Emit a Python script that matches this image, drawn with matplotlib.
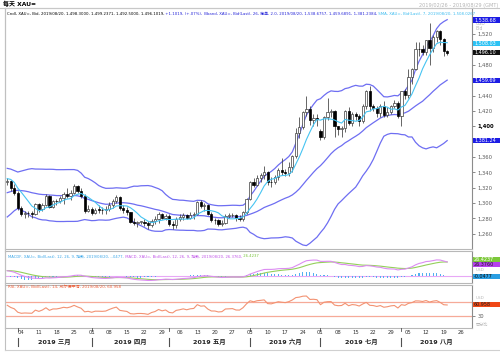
import numpy as np
import pandas as pd
import matplotlib
matplotlib.use('Agg')
import matplotlib.pyplot as plt
from matplotlib.patches import Rectangle
from matplotlib.lines import Line2D

plt.rcParams['font.family'] = ['DejaVu Sans', 'Noto Sans CJK SC']

W, H = 500, 352

# ---------------- data ----------------
dates = pd.bdate_range('2019-02-26', '2019-08-20')
axis_dates = pd.bdate_range('2019-02-26', '2019-08-30')

# closes before the first shown candle (Dec 3 2018 - Feb 25 2019), used only to warm up indicators
warmup_closes = [1231, 1238, 1237, 1238, 1248, 1244, 1244, 1246, 1241, 1238, 1245, 1249, 1242, 1258, 1256,
                 1269, 1268, 1268, 1276, 1280, 1282,
                 1282, 1287, 1294, 1285, 1289, 1284, 1292, 1287, 1289, 1291, 1289, 1293, 1292, 1281,
                 1280, 1283, 1282, 1280, 1297, 1302, 1311, 1319, 1321,
                 1317, 1311, 1314, 1307, 1309, 1315, 1307, 1311, 1306, 1313, 1322, 1327, 1340, 1346, 1324,
                 1329, 1328]

opens = [1328.0, 1328.5, 1319.4,
         1313.3, 1293.5, 1286.2, 1287.5, 1286.5, 1285.7,
         1298.6, 1291.6, 1297.9, 1309.2, 1295.0,
         1302.6, 1302.5, 1306.0, 1311.2, 1308.9,
         1313.5, 1322.1, 1315.5, 1309.5, 1290.0,
         1292.4, 1286.4, 1291.2, 1291.0, 1290.3,
         1291.5, 1297.6, 1303.2, 1307.8, 1293.5,
         1290.7, 1288.2, 1275.7, 1273.9, 1275.4,
         1275.5, 1274.2, 1271.0, 1276.2, 1279.2,
         1285.9, 1280.5,
         1283.4, 1273.0, 1270.8,
         1279.0, 1281.2, 1284.4, 1281.0, 1284.3,
         1285.6, 1301.3, 1296.3, 1297.7, 1286.1,
         1277.6, 1277.5, 1273.2, 1274.2, 1283.5,
         1284.1, 1284.9, 1279.9, 1279.6, 1287.6,
         1305.6, 1327.5, 1324.0, 1333.1, 1336.6,
         1340.9, 1327.8, 1326.8, 1334.1, 1342.5,
         1340.8, 1339.4, 1346.3, 1360.8, 1391.5,
         1399.5, 1418.7, 1422.8, 1408.6, 1411.3,
         1394.0, 1385.5, 1411.9, 1418.6, 1419.9,
         1399.9, 1395.8, 1397.5, 1419.6, 1403.9,
         1415.8, 1413.5, 1406.5, 1426.5, 1446.1,
         1426.2, 1424.3, 1417.9, 1426.5, 1414.6,
         1418.9, 1426.8, 1430.2,
         1413.5, 1445.5,
         1440.8, 1464.2, 1474.5, 1501.0, 1500.5,
         1497.3, 1511.9, 1502.5, 1516.6, 1524.4,
         1513.6, 1498.3]

highs = [1333.0, 1330.5, 1325.0,
         1315.0, 1295.5, 1289.5, 1290.0, 1289.0, 1300.0,
         1300.0, 1300.5, 1311.5, 1310.0, 1304.5,
         1305.5, 1309.0, 1314.0, 1320.0, 1317.0,
         1324.5, 1324.0, 1319.5, 1312.0, 1297.5,
         1295.0, 1293.5, 1297.0, 1295.0, 1296.5,
         1301.0, 1305.5, 1310.0, 1309.0, 1297.5,
         1295.0, 1288.5, 1280.5, 1277.0, 1277.0,
         1279.5, 1277.0, 1279.5, 1282.5, 1288.0,
         1287.0, 1286.0,
         1286.0, 1276.0, 1282.0,
         1285.5, 1286.5, 1286.0, 1288.0, 1288.5,
         1303.0, 1303.5, 1300.0, 1298.5, 1288.0,
         1280.0, 1279.0, 1277.5, 1286.0, 1287.0,
         1286.5, 1286.0, 1284.5, 1290.0, 1306.0,
         1329.0, 1332.5, 1336.0, 1339.5, 1348.0,
         1341.5, 1333.5, 1337.0, 1345.5, 1358.5,
         1344.0, 1353.5, 1362.5, 1397.5, 1411.5,
         1420.0, 1439.0, 1426.0, 1416.5, 1416.0,
         1396.0, 1414.0, 1437.5, 1422.0, 1421.5,
         1401.0, 1401.0, 1421.5, 1425.5, 1418.0,
         1419.0, 1416.0, 1428.5, 1447.5, 1453.0,
         1429.5, 1426.0, 1429.0, 1433.5, 1424.5,
         1428.0, 1434.0, 1433.0,
         1446.5, 1448.5,
         1475.0, 1476.0, 1510.5, 1509.5, 1506.0,
         1513.0, 1535.0, 1519.5, 1525.0, 1526.0,
         1515.0, 1499.2]

lows = [1323.0, 1316.0, 1311.0,
        1290.5, 1282.5, 1280.8, 1282.0, 1281.0, 1284.0,
        1288.5, 1290.0, 1296.0, 1293.0, 1293.5,
        1298.0, 1299.5, 1298.5, 1306.0, 1304.5,
        1311.5, 1312.5, 1307.0, 1287.0, 1288.5,
        1284.0, 1285.5, 1286.5, 1286.0, 1285.5,
        1289.5, 1294.0, 1300.0, 1290.5, 1286.5,
        1284.5, 1274.0, 1271.0, 1268.5, 1272.0,
        1270.5, 1266.0, 1268.5, 1273.0, 1273.5,
        1278.5, 1278.0,
        1270.0, 1266.5, 1267.5,
        1276.0, 1278.0, 1278.5, 1279.5, 1279.0,
        1284.0, 1293.0, 1290.0, 1284.5, 1275.5,
        1273.0, 1269.5, 1270.0, 1272.5, 1280.5,
        1281.5, 1276.5, 1276.0, 1276.5, 1286.0,
        1304.0, 1320.5, 1322.5, 1327.0, 1331.0,
        1323.5, 1320.5, 1325.0, 1329.5, 1336.0,
        1335.0, 1335.5, 1340.0, 1358.5, 1385.0,
        1396.0, 1414.0, 1402.0, 1400.0, 1400.5,
        1381.5, 1383.0, 1408.0, 1411.5, 1386.0,
        1388.5, 1385.5, 1392.0, 1401.5, 1401.0,
        1408.5, 1400.5, 1404.5, 1422.0, 1420.0,
        1419.5, 1412.5, 1412.5, 1412.5, 1412.5,
        1416.0, 1424.0, 1410.5,
        1400.5, 1435.0,
        1437.0, 1455.0, 1473.5, 1491.5, 1493.0,
        1492.5, 1480.0, 1496.5, 1510.0, 1506.0,
        1492.0, 1492.5]

closes = [1328.5, 1319.4, 1313.3,
          1293.5, 1286.2, 1287.5, 1286.5, 1285.7, 1298.6,
          1291.6, 1297.9, 1309.2, 1295.0, 1302.6,
          1302.5, 1306.0, 1311.2, 1308.9, 1313.5,
          1322.1, 1315.5, 1309.5, 1290.0, 1292.4,
          1286.4, 1291.2, 1291.0, 1290.3, 1291.5,
          1297.6, 1303.2, 1307.8, 1293.5, 1290.7,
          1288.2, 1275.7, 1273.9, 1275.4, 1275.5,
          1274.2, 1271.0, 1276.2, 1279.2, 1285.9,
          1280.5, 1283.4,
          1273.0, 1270.8, 1279.0,
          1281.2, 1284.4, 1281.0, 1284.3, 1285.6,
          1301.3, 1296.3, 1297.7, 1286.1, 1277.6,
          1277.5, 1273.2, 1274.2, 1283.5, 1284.1,
          1284.9, 1279.9, 1279.6, 1287.6, 1305.6,
          1327.5, 1324.0, 1333.1, 1336.6, 1340.9,
          1327.8, 1326.8, 1334.1, 1342.5, 1340.8,
          1339.4, 1346.3, 1360.8, 1391.5, 1399.5,
          1418.7, 1422.8, 1408.6, 1411.3, 1409.5,
          1385.5, 1411.9, 1418.6, 1419.9, 1399.9,
          1395.8, 1397.5, 1419.6, 1403.9, 1415.8,
          1413.5, 1406.5, 1426.5, 1446.1, 1426.2,
          1424.3, 1417.9, 1426.5, 1414.6, 1418.9,
          1426.8, 1430.2, 1413.5,
          1445.5, 1440.8,
          1464.2, 1474.5, 1501.0, 1500.5, 1497.3,
          1511.9, 1502.5, 1516.6, 1524.4, 1513.6,
          1497.8, 1496.1]

# last values as printed by the chart (used for the right-hand value boxes)
last_bband = [1538.6757, 1459.6891, 1381.2384]
last_sma = 1508.0267
last_close = 1496.1019
last_macd_signal = 26.4237
last_macd = 26.3760
last_macd_hist = -0.0477
last_rsi = 60.958

price_ticks = list(range(1260, 1541, 20))
hidden_price_labels = [1380, 1460, 1500, 1540]   # covered by value boxes in the reference
month_names = {3: '三月', 4: '四月', 5: '五月', 6: '六月', 7: '七月', 8: '八月'}

title_main = [("Cndl, XAU=, Bid, 2019/08/20, 1,498.3000, 1,499.2371, 1,492.5000, 1,496.1019,", '#000000'),
              (" +1.1019, (+.07%),", '#2424d8'),
              (" Bband, XAU=, Bid(Last), 26, 简单, 2.0, 2019/08/20, 1,538.6757, 1,459.6891, 1,381.2384,", '#2424d8'),
              (" SMA, XAU=, Bid(Last), 7, 2019/08/20, 1,508.0267", '#3cbcf0')]
title_macd = [("MACDF, XAU=, Bid(Last), 12, 26, 9, 指数, 2019/08/20, -.0477,", '#3aa6e8'),
              (" MACD, XAU=, Bid(Last), 12, 26, 9, 指数, 2019/08/20, 26.3760,", '#c054e8'),
              (" 26.4237", '#78c43a')]
title_rsi = [("RSI, XAU=, Bid(Last), 14, 威尔德平滑, 2019/08/20, 60.958", '#f0603a')]

# ---------------- indicators ----------------
n = len(closes)
assert len(opens) == n and len(highs) == n and len(lows) == n == len(dates)
allc = pd.Series(warmup_closes + closes, dtype=float)
nw = len(warmup_closes)
sma7 = allc.rolling(7).mean().values[nw:]
bmid_s = allc.rolling(26).mean()
bsd = allc.rolling(26).std(ddof=0)
bup = (bmid_s + 2 * bsd).values[nw:]
blo = (bmid_s - 2 * bsd).values[nw:]
bmid = bmid_s.values[nw:]
ema12 = allc.ewm(span=12, adjust=False).mean()
ema26 = allc.ewm(span=26, adjust=False).mean()
macd_s = ema12 - ema26
sig_s = macd_s.ewm(span=9, adjust=False).mean()
hist = (macd_s - sig_s).values[nw:]
macd = macd_s.values[nw:]
sig = sig_s.values[nw:]
d = allc.diff()
gain = d.clip(lower=0).ewm(alpha=1 / 14, adjust=False).mean()
loss = (-d.clip(upper=0)).ewm(alpha=1 / 14, adjust=False).mean()
rsi = (100 - 100 / (1 + gain / loss)).values[nw:]

# ---------------- figure ----------------
fig = plt.figure(figsize=(W / 100, H / 100), dpi=100)
fig.patch.set_facecolor('white')


def px_axes(x0, y0, x1, y1):
    return fig.add_axes([x0 / W, 1 - y1 / H, (x1 - x0) / W, (y1 - y0) / H])


ax = px_axes(5, 8, 472, 249)
axm = px_axes(5, 251, 472, 283)
axr = px_axes(5, 285, 472, 328)
XL = (-0.63, 132.05)
for a in (ax, axm, axr):
    a.set_xlim(*XL)
    a.set_xticks([])
    for s in ('top', 'bottom', 'left'):
        a.spines[s].set_color('#b8b8b8')
        a.spines[s].set_linewidth(0.8)
    a.spines['right'].set_color('#8c8c8c')
    a.spines['right'].set_linewidth(0.8)
    a.yaxis.tick_right()
    a.tick_params(axis='y', length=2.5, width=0.5, pad=1.2, labelsize=3.8, colors='#5a5a5a')

ax.set_ylim(1240.0, 1554.2)
axm.set_ylim(-12.4, 46.9)
axr.set_ylim(-3.6, 116.7)

x = np.arange(n)
o, h, l, c = (np.array(v, dtype=float) for v in (opens, highs, lows, closes))
up = c >= o
bot = np.minimum(o, c)
bh = np.maximum(np.abs(c - o), 0.7)

ax.plot(x, bup, color='#6e6ef2', lw=0.9, zorder=2)
ax.plot(x, bmid, color='#6e6ef2', lw=0.9, zorder=2)
ax.plot(x, blo, color='#6e6ef2', lw=0.9, zorder=2)
ax.vlines(x, l, h, color='#3c3c3c', lw=0.55, zorder=3)
ax.bar(x[up], bh[up], bottom=bot[up], width=0.64, facecolor='white', edgecolor='#3c3c3c', lw=0.5, zorder=4)
ax.bar(x[~up], bh[~up], bottom=bot[~up], width=0.64, facecolor='black', edgecolor='black', lw=0.5, zorder=4)
ax.plot(x, sma7, color='#46c4f2', lw=0.8, zorder=5)

ax.set_yticks(price_ticks)
ax.set_yticklabels(['' if v in hidden_price_labels else f"{v:,}" for v in price_ticks])
for t in ax.get_yticklabels():
    if t.get_text() == '1,400':
        t.set_color('black')
        t.set_fontweight('bold')

# MACD panel
axm.axhline(0, color='#e8a8f6', lw=0.8, zorder=1)
axm.bar(x, hist, width=0.3, color='#52b0f0', zorder=2)
axm.plot(x, sig, color='#94d05a', lw=0.8, zorder=3)
axm.plot(x, macd, color='#dc8cf2', lw=0.8, zorder=4)
axm.set_yticks([])

# RSI panel
axr.axhline(70, color='#f6aa98', lw=0.9)
axr.axhline(30, color='#f6aa98', lw=0.9)
axr.plot(x, rsi, color='#f39272', lw=0.8)
axr.set_yticks([30])
axr.set_yticklabels(['30'])

fig.canvas.draw()
r = fig.canvas.get_renderer()


def ypx(a, v):
    return H - a.transData.transform((0, v))[1]


def xpx(i):
    return axr.transData.transform((i, 0))[0]


def adv(s, size):
    t1 = fig.text(0, 0, s + 'x', fontsize=size)
    t2 = fig.text(0, 0, 'x', fontsize=size)
    w = t1.get_window_extent(r).width - t2.get_window_extent(r).width
    t1.remove()
    t2.remove()
    return w


def seg_line(segs, x0, y, target_w, size0=4.0):
    full = ''.join(s for s, _ in segs)
    size = size0 * target_w / adv(full, size0)
    pre = ''
    for s, col in segs:
        xo = x0 + (adv(pre, size) if pre else 0)
        fig.text(xo / W, 1 - y / H, s, color=col, fontsize=size, va='center', ha='left')
        pre += s


def vbox(y, txt, bg, fg, x0=473, hh=5.4):
    fig.add_artist(Rectangle((x0 / W, 1 - (y + hh / 2) / H), (W - x0) / W, hh / H,
                             transform=fig.transFigure, facecolor=bg, edgecolor='none', zorder=5))
    fig.text((x0 + 1) / W, 1 - y / H, txt, color=fg, fontsize=3.5, va='center', ha='left', zorder=6)


def ftext(xp, yp, s, **kw):
    fig.text(xp / W, 1 - yp / H, s, **kw)


# header
ftext(3, 4, '每天 XAU=', fontsize=4.3, fontweight='bold', va='center', ha='left')
ftext(498, 5, '2019/02/26 - 2019/08/29 (GMT)', fontsize=3.6, color='#b4b4b4', va='center', ha='right')
seg_line(title_main, 7, 14.3, 464)
seg_line(title_macd, 8, 256.3, 249)
seg_line(title_rsi, 8, 287.2, 114)

# right-side value boxes
ftext(476, 23.5, 'USD', fontsize=3.3, color='#b8b8b8', va='center')
ftext(476, 29, 'Bid', fontsize=3.3, color='#b8b8b8', va='center')
vbox(ypx(ax, last_bband[0]), f"{last_bband[0]:,.2f}", '#1c1ce4', 'white')
vbox(ypx(ax, last_sma), f"{last_sma:,.2f}", '#2cc2f4', 'white')
vbox(ypx(ax, last_close), f"{last_close:,.2f}", '#111111', 'white')
vbox(ypx(ax, last_bband[1]), f"{last_bband[1]:,.2f}", '#1c1ce4', 'white')
vbox(ypx(ax, last_bband[2]), f"{last_bband[2]:,.2f}", '#1c1ce4', 'white')

ymacd = ypx(axm, (last_macd + last_macd_signal) / 2)
vbox(ymacd - 2.8, f"{last_macd_signal:.4f}", '#7cc83a', 'white', hh=4.8)
vbox(ymacd + 2.8, f"{last_macd:.4f}", '#b640ee', '#222222', hh=4.8)
ftext(476, ymacd + 8.2, 'USD', fontsize=3.0, color='#b8b8b8', va='center')
vbox(ypx(axm, last_macd_hist), f"{last_macd_hist:.4f}", '#2a9ee2', '#111111', hh=4.8)

ftext(476, 298.3, 'USD', fontsize=3.0, color='#b8b8b8', va='center')
vbox(ypx(axr, last_rsi), f"{last_rsi:.3f}", '#f04816', '#222222', hh=5.0)
ftext(476, 325, '百分比', fontsize=3.0, color='#b8b8b8', va='center')

# x-axis: day labels and months
month_starts = []
for i, dt in enumerate(axis_dates):
    if dt.weekday() == 0:
        ftext(xpx(i), 332.3, f"{dt.day:02d}", fontsize=3.8, color='#333333', va='center', ha='center')
    if i > 0 and dt.month != axis_dates[i - 1].month:
        month_starts.append((i, dt.month))
right_px = ax.transData.transform((XL[1], 0))[0]
for k, (i, m) in enumerate(month_starts):
    xs = xpx(i)
    xe = xpx(month_starts[k + 1][0]) if k + 1 < len(month_starts) else right_px
    fig.add_artist(Line2D([xs / W, xs / W], [1 - 338 / H, 1 - 345.5 / H], color='#505050', lw=0.8))
    fig.add_artist(Line2D([xs / W, xs / W], [1 - 328 / H, 1 - 331 / H], color='#505050', lw=0.6))
    ftext((xs + xe) / 2, 341.7, f"2019 {month_names[m]}", fontsize=4.6, fontweight='bold',
          color='#222222', va='center', ha='center')

# outer frame lines
fig.add_artist(Line2D([5 / W, 5 / W], [1 - 8 / H, 1 - 350 / H], color='#c0c0c0', lw=0.8))
fig.add_artist(Line2D([5 / W, 1], [1 - 350 / H, 1 - 350 / H], color='#d0d0d0', lw=0.8))
fig.add_artist(Line2D([0, 1], [1 - 8 / H, 1 - 8 / H], color='#c8c8c8', lw=0.8))

fig.savefig('out.png', dpi=100)
